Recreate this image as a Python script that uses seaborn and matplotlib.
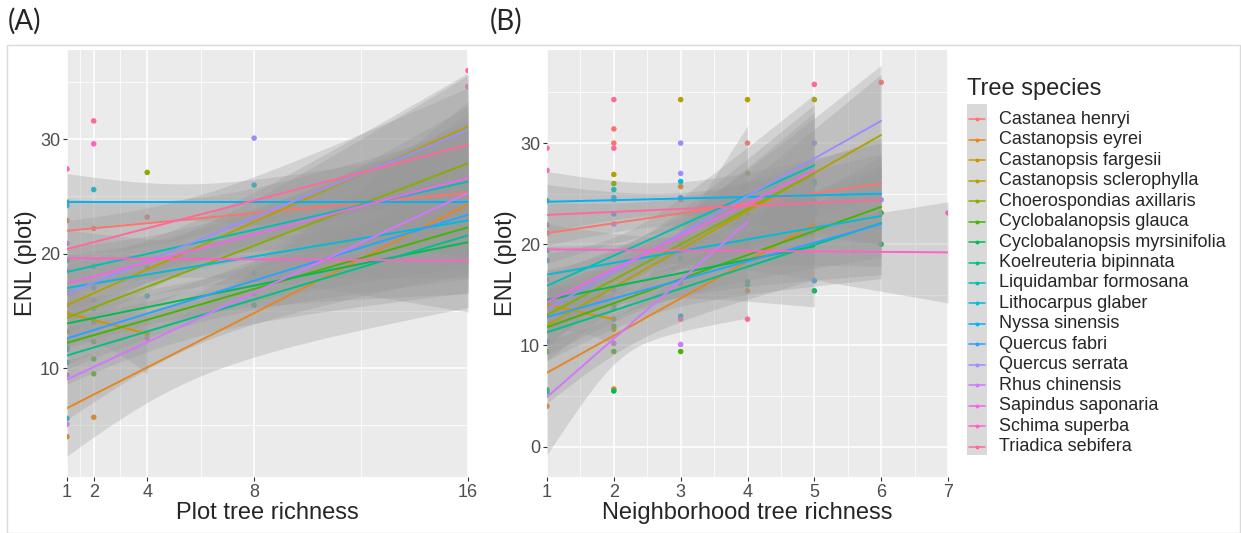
import numpy as np
import pandas as pd
import matplotlib
matplotlib.use("Agg")
import matplotlib.pyplot as plt
import seaborn as sns
from matplotlib.patches import Rectangle
from matplotlib.lines import Line2D

# ---------------------------------------------------------------- data
species = [
    "Castanea henryi", "Castanopsis eyrei", "Castanopsis fargesii",
    "Castanopsis sclerophylla", "Choerospondias axillaris",
    "Cyclobalanopsis glauca", "Cyclobalanopsis myrsinifolia",
    "Koelreuteria bipinnata", "Liquidambar formosana", "Lithocarpus glaber",
    "Nyssa sinensis", "Quercus fabri", "Quercus serrata", "Rhus chinensis",
    "Sapindus saponaria", "Schima superba", "Triadica sebifera",
]

# Panel A: fitted line per species (x range, fitted ENL at both ends)
a_x0 = [1, 1, 1, 1, 1, 1, 1, 1, 1, 1, 1, 1, 1, 1, 1, 1, 1]
a_x1 = [16, 16, 4, 16, 16, 16, 16, 16, 16, 16, 16, 16, 16, 16, 16, 16, 16]
a_y0 = [22.0, 6.5, 14.8, 15.5, 14.4, 12.2, 13.9, 11.1, 18.4, 17.0, 24.5, 12.6, 16.5, 9.0, 17.4, 19.6, 20.4]
a_y1 = [25.3, 24.3, 13.0, 31.1, 27.9, 22.3, 21.0, 21.6, 26.3, 22.9, 24.5, 23.4, 30.8, 25.3, 26.6, 19.4, 29.5]
# confidence half-widths: at start, narrowest, at end
a_w0 = [2.8, 4.2, 2.5, 2.5, 2.5, 2.3, 2.2, 2.5, 2.2, 2.5, 2.5, 2.3, 2.5, 3.5, 2.5, 2.5, 2.5]
a_wm = [1.8, 3.0, 2.0, 1.7, 1.7, 1.5, 1.5, 1.7, 1.5, 1.8, 1.6, 1.5, 1.8, 2.2, 1.7, 1.6, 1.7]
a_w1 = [5.5, 9.0, 3.5, 4.5, 5.0, 4.5, 4.5, 5.0, 4.5, 5.0, 5.0, 4.5, 5.0, 7.0, 5.0, 4.5, 5.0]

# Panel A observations (species index, plot richness, ENL)
a_pt_sp = [0, 0, 0, 0, 1, 1, 2, 2, 3, 3, 3, 4, 4, 4, 5, 5, 5, 5, 5, 6, 6, 6,
           7, 7, 7, 8, 8, 8, 8, 9, 9, 9, 9, 9, 10, 10, 10, 10, 11, 11,
           12, 12, 12, 13, 13, 13, 14, 14, 14, 15, 15, 15, 16, 16, 16]
a_pt_x = [1, 2, 4, 16, 1, 2, 1, 4, 1, 4, 16, 4, 1, 16, 1, 2, 2, 2, 16, 2, 8, 16,
          1, 2, 16, 1, 2, 4, 8, 1, 1, 2, 2, 8, 1, 1, 2, 16, 1, 16,
          1, 2, 8, 1, 8, 16, 1, 1, 4, 1, 2, 16, 2, 16, 1]
a_pt_y = [22.9, 22.2, 23.2, 26.0, 4.0, 5.7, 14.8, 13.0, 15.5, 18.8, 27.9, 27.1, 13.2, 26.6,
          12.3, 12.3, 10.8, 9.5, 26.0, 14.2, 15.5, 23.3, 11.6, 14.0, 21.5,
          19.4, 18.9, 16.3, 18.3, 10.5, 5.6, 15.2, 25.6, 26.0, 24.5, 24.2, 17.0, 24.5,
          11.8, 20.2, 16.6, 15.9, 30.1, 5.1, 16.5, 25.3, 20.9, 9.4, 12.6,
          27.4, 29.6, 34.6, 31.6, 36.0, 18.5]

# Panel B: fitted line per species
b_x0 = [1, 1, 1, 1, 1, 1, 1, 1, 1, 1, 1, 1, 1, 1, 1, 1, 1]
b_x1 = [6, 5, 2, 6, 5, 6, 5, 6, 5, 6, 6, 6, 6, 4, 5, 7, 6]
b_y0 = [21.1, 7.3, 14.0, 12.0, 13.0, 11.8, 14.5, 11.3, 15.9, 17.0, 24.2, 12.8, 13.6, 4.9, 14.3, 19.5, 22.9]
b_y1 = [26.0, 22.0, 12.6, 30.8, 27.0, 23.7, 19.8, 22.1, 27.8, 22.8, 25.0, 22.0, 32.2, 22.2, 27.3, 19.2, 24.4]
b_w0 = [3.0, 3.0, 2.5, 3.5, 3.0, 2.8, 3.0, 2.8, 3.2, 2.8, 3.0, 2.8, 3.5, 5.7, 3.2, 2.5, 3.0]
b_wm = [1.6, 1.8, 2.0, 1.8, 1.8, 1.6, 1.8, 1.6, 1.8, 1.6, 1.6, 1.6, 1.8, 2.5, 1.8, 1.3, 1.6]
b_w1 = [4.5, 5.5, 2.5, 6.0, 6.0, 5.0, 6.0, 5.5, 7.0, 5.0, 5.0, 5.0, 5.5, 9.5, 6.5, 5.0, 4.5]

# Panel B observations (species index, neighborhood richness, ENL)
b_pt_sp = [0, 0, 0, 0, 0, 0, 0, 0, 0, 0, 1, 1, 1, 1, 2, 2, 3, 3, 3, 3, 3, 3,
           4, 4, 4, 5, 5, 5, 5, 5, 5, 6, 6, 6, 6, 6, 7, 7, 7, 8, 8, 8, 8, 8,
           9, 9, 9, 9, 9, 10, 10, 10, 11, 11, 11, 11, 11, 12, 12, 12, 12, 12,
           13, 13, 14, 14, 15, 15, 15, 16, 16, 16, 16, 16]
b_pt_x = [1, 1, 2, 2, 2, 3, 4, 4, 5, 6, 1, 2, 3, 4, 1, 2, 2, 3, 3, 4, 4, 5,
          1, 2, 3, 1, 2, 2, 2, 3, 6, 1, 2, 4, 5, 6, 1, 2, 3, 1, 2, 3, 4, 5,
          1, 2, 3, 3, 5, 1, 2, 3, 1, 2, 4, 5, 5, 2, 3, 3, 5, 6,
          2, 3, 1, 2, 1, 3, 7, 1, 2, 2, 4, 5]
b_pt_y = [21.9, 21.1, 31.4, 30.0, 24.4, 24.4, 30.0, 23.0, 24.3, 36.0,
          4.0, 5.7, 25.7, 15.4, 14.0, 11.6,
          26.9, 34.3, 20.0, 34.3, 27.0, 34.3, 13.0, 26.0, 19.3,
          9.4, 9.4, 11.9, 14.0, 9.4, 23.1, 5.6, 5.5, 16.3, 15.4, 20.0,
          5.4, 13.6, 18.6, 19.4, 25.4, 16.1, 16.0, 26.2,
          10.4, 12.6, 12.9, 26.2, 26.0, 24.3, 24.6, 24.6,
          18.4, 23.0, 20.1, 16.4, 23.1, 22.0, 30.0, 27.0, 30.0, 24.4,
          10.2, 10.1, 16.5, 15.5, 27.3, 12.6, 23.1, 29.5, 34.3, 29.5, 12.6, 35.8]


# ---------------------------------------------------------------- colours
def hue_palette(n, c=100.0, l=65.0, h_start=15.0):
    """Evenly spaced HCL hues (polar CIE-Luv) converted to sRGB hex."""
    xn, yn, zn = 0.95047, 1.0, 1.08883
    den = xn + 15 * yn + 3 * zn
    un, vn = 4 * xn / den, 9 * yn / den
    m = np.array([[3.2406, -1.5372, -0.4986],
                  [-0.9689, 1.8758, 0.0415],
                  [0.0557, -0.2040, 1.0570]])
    out = []
    for h in h_start + 360.0 * np.arange(n) / n:
        u, v = c * np.cos(np.radians(h)), c * np.sin(np.radians(h))
        Y = yn * ((l + 16) / 116) ** 3
        up, vp = u / (13 * l) + un, v / (13 * l) + vn
        X = 9 * Y * up / (4 * vp)
        Z = Y * (12 - 3 * up - 20 * vp) / (4 * vp)
        lin = m @ np.array([X, Y, Z])
        rgb = np.where(lin <= 0.0031308, 12.92 * lin, 1.055 * np.clip(lin, 0, None) ** (1 / 2.4) - 0.055)
        rgb = np.clip(rgb, 0, 1)
        out.append("#%02x%02x%02x" % tuple(int(round(x * 255)) for x in rgb))
    return out


colors = hue_palette(len(species))
palette = dict(zip(species, colors))

# ---------------------------------------------------------------- style
sns.set_theme(style="darkgrid")
plt.rcParams.update({
    "font.family": ["Liberation Sans", "DejaVu Sans"],
    "axes.facecolor": "#EBEBEB",
    "figure.facecolor": "white",
    "grid.color": "white",
    "axes.edgecolor": "#EBEBEB",
})

fig = plt.figure(figsize=(12.41, 5.33), dpi=100)
W, H = 1241.0, 533.0


def fig_box(x0, y0, x1, y1):
    return [x0 / W, 1 - y1 / H, (x1 - x0) / W, (y1 - y0) / H]


axA = fig.add_axes(fig_box(67, 50, 468, 477))
axB = fig.add_axes(fig_box(547, 50, 948, 477))

# figure frame
fig.add_artist(Rectangle((7 / W, 0.0), (W - 8) / W, 1 - 45 / H, transform=fig.transFigure,
                         fill=False, edgecolor="#DADADA", linewidth=1.0))


def band(x, x0, x1, w0, wm, w1):
    """Hyperbolic confidence half-width through the three given widths."""
    a, b = w0 ** 2 - wm ** 2, w1 ** 2 - wm ** 2
    r = np.sqrt(a / b) if b > 0 else 1.0
    c = (x0 + r * x1) / (1 + r)
    k = a / (x0 - c) ** 2 if x0 != c else 0.0
    return np.sqrt(wm ** 2 + k * (x - c) ** 2)


def draw_panel(ax, x0s, x1s, y0s, y1s, w0s, wms, w1s, psp, px, py):
    pts = pd.DataFrame({"species": [species[i] for i in psp], "x": px, "y": py})
    sns.scatterplot(data=pts, x="x", y="y", hue="species", palette=palette,
                    s=16, linewidth=0, legend=False, ax=ax, zorder=2)
    for i, sp in enumerate(species):
        xs = np.linspace(x0s[i], x1s[i], 80)
        fit = y0s[i] + (y1s[i] - y0s[i]) * (xs - x0s[i]) / (x1s[i] - x0s[i])
        hw = band(xs, x0s[i], x1s[i], w0s[i], wms[i], w1s[i])
        ax.fill_between(xs, fit - hw, fit + hw, color="#999999", alpha=0.3,
                        linewidth=0, zorder=3)
        line = pd.DataFrame({"x": xs, "y": fit})
        sns.lineplot(data=line, x="x", y="y", color=palette[sp], linewidth=1.4,
                     ax=ax, zorder=4, estimator=None, sort=False)


draw_panel(axA, a_x0, a_x1, a_y0, a_y1, a_w0, a_wm, a_w1, a_pt_sp, a_pt_x, a_pt_y)
draw_panel(axB, b_x0, b_x1, b_y0, b_y1, b_w0, b_wm, b_w1, b_pt_sp, b_pt_x, b_pt_y)

# ---------------------------------------------------------------- axes
axA.set_xlim(1, 16)
axA.set_ylim(0.48, 37.8)
axA.set_xticks([1, 2, 4, 8, 16])
axA.set_xticks([1.5, 3, 6, 12], minor=True)
axA.set_yticks([10, 20, 30])
axA.set_yticks([5, 15, 25, 35], minor=True)
axA.set_xlabel("Plot tree richness")

axB.set_xlim(1, 7)
axB.set_ylim(-3.0, 39.2)
axB.set_xticks(range(1, 8))
axB.set_xticks(np.arange(1.5, 7, 1.0), minor=True)
axB.set_yticks([0, 10, 20, 30])
axB.set_yticks([5, 15, 25, 35], minor=True)
axB.set_xlabel("Neighborhood tree richness")

for ax in (axA, axB):
    ax.set_ylabel("ENL (plot)")
    ax.grid(which="major", color="white", linewidth=1.1)
    ax.grid(which="minor", color="white", linewidth=0.55)
    ax.set_axisbelow(True)
    for s in ax.spines.values():
        s.set_visible(False)
    ax.tick_params(axis="both", which="major", length=3, width=0.8, color="#333333",
                   labelsize=13, labelcolor="#4D4D4D", pad=2,
                   bottom=True, left=True)
    ax.tick_params(axis="both", which="minor", length=0)
    ax.xaxis.label.set_size(17)
    ax.yaxis.label.set_size(17)
    ax.xaxis.labelpad = 1
    ax.yaxis.labelpad = 2

# panel tags
fig.text(8 / W, 1 - 21 / H, "(A)", fontsize=20, family=["Lato", "DejaVu Sans"], va="center", ha="left")
fig.text(490 / W, 1 - 21 / H, "(B)", fontsize=20, family=["Lato", "DejaVu Sans"], va="center", ha="left")

# ---------------------------------------------------------------- legend
fig.text(967 / W, 1 - 95 / H, "Tree species", fontsize=17, ha="left", va="baseline")
fig.add_artist(Rectangle((967 / W, 1 - 455 / H), 20 / W, (455 - 104) / H,
                         transform=fig.transFigure, facecolor="#D9D9D9", edgecolor="none"))
for i, sp in enumerate(species):
    yy = 1 - (119.3 + i * 20.46) / H
    fig.add_artist(Line2D([969 / W, 985 / W], [yy, yy], transform=fig.transFigure,
                          color=palette[sp], linewidth=1.1))
    fig.add_artist(Line2D([977 / W], [yy], transform=fig.transFigure, marker="o",
                          markersize=2.8, markeredgewidth=0, color=palette[sp]))
    fig.text(999 / W, yy, sp, fontsize=13, ha="left", va="center")

fig.savefig("out.png", dpi=100)
